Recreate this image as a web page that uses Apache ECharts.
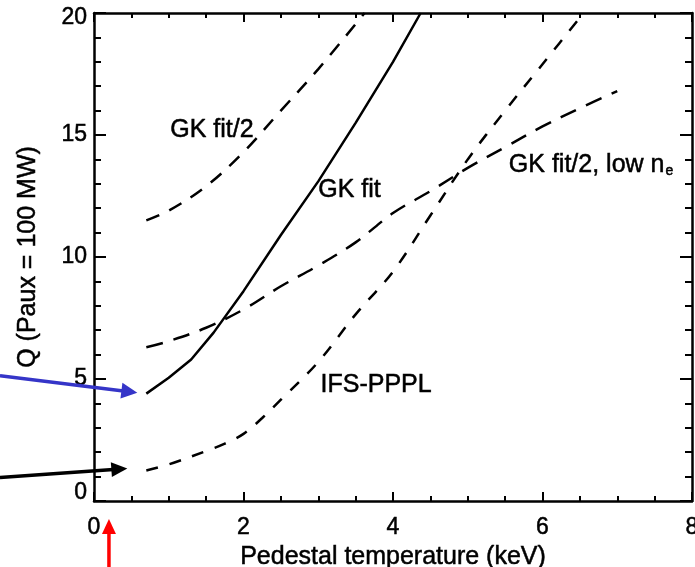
<!DOCTYPE html>
<html><head><meta charset="utf-8">
<script src="https://cdn.jsdelivr.net/npm/echarts@6/dist/echarts.min.js"></script>
<style>html,body{margin:0;padding:0;background:#fff}#c{width:695px;height:567px}</style>
</head><body><div id="c"></div>
<script>
// ---- data ----
const xTicks = [0, 2, 4, 6, 8];
const yTicks = [0, 5, 10, 15, 20];
const xTitle = 'Pedestal temperature (keV)';
const yTitle = 'Q (Paux = 100 MW)';

const gkFitX = [0.7, 1.0, 1.3, 1.6, 2.0, 2.5, 3.0, 3.5, 4.0, 4.37];
const gkFitY = [4.4, 5.05, 5.8, 6.9, 8.6, 10.9, 13.1, 15.5, 18.0, 20.0];
const gkHalfX = [0.7, 1.0, 1.5, 2.0, 2.5, 3.0, 3.62];
const gkHalfY = [11.5, 11.9, 12.9, 14.3, 16.0, 17.7, 20.0];
const lowNeX = [0.7, 1.0, 1.5, 2.0, 2.5, 3.0, 3.5, 4.0, 4.5, 5.0, 5.5, 6.0, 6.5, 7.0];
const lowNeY = [6.3, 6.55, 7.1, 7.85, 8.8, 9.65, 10.6, 11.8, 12.7, 13.65, 14.5, 15.35, 16.1, 16.8];
const ifsX = [0.7, 1.0, 1.5, 1.75, 2.0, 2.25, 2.5, 3.0, 3.5, 4.0, 4.5, 5.0, 5.5, 6.0, 6.55];
const ifsY = [1.25, 1.5, 2.05, 2.35, 2.75, 3.4, 4.15, 5.7, 7.65, 9.4, 11.7, 14.0, 16.0, 17.9, 20.0];

const annoText = ['{m|GK fit/2}', '{m|GK fit}', '{t|GK fit/2, low n}{sub|e}', '{m|IFS-PPPL}'];
const annoX = [1.02, 3.0, 5.55, 3.03];
const annoY = [15.2, 12.75, 13.75, 4.76];

// ---- chart ----
const FONT = 'Liberation Sans';
const TB = {textBorderColor: '#000', textBorderWidth: 0.5};
const zip = (a, b) => a.map((v, i) => [v, b[i]]);
const chart = echarts.init(document.getElementById('c'), null, {renderer: 'canvas'});
const AXW = 2.5;

function xAxis(pos, labels) {
  return {
    type: 'value', position: pos, min: xTicks[0], max: xTicks[xTicks.length - 1],
    interval: xTicks[1] - xTicks[0],
    name: labels ? xTitle : '', nameLocation: 'middle', nameGap: 39,
    nameTextStyle: Object.assign({fontFamily: FONT, fontSize: 25, color: '#000'}, TB),
    axisLine: {show: true, onZero: false, lineStyle: {color: '#000', width: AXW}},
    axisTick: {show: true, inside: true, length: 9, lineStyle: {color: '#000', width: 2}},
    minorTick: {show: true, splitNumber: 4, length: 5, lineStyle: {color: '#000', width: 2}},
    splitLine: {show: false}, minorSplitLine: {show: false},
    axisLabel: Object.assign({show: labels, fontFamily: FONT, fontSize: 23, color: '#000', margin: 15}, TB)
  };
}
function yAxis(pos, labels) {
  return {
    type: 'value', position: pos, min: yTicks[0], max: yTicks[yTicks.length - 1],
    interval: yTicks[1] - yTicks[0],
    name: labels ? yTitle : '', nameLocation: 'middle', nameGap: 53, nameRotate: 90,
    nameTextStyle: Object.assign({fontFamily: FONT, fontSize: 25, color: '#000'}, TB),
    axisLine: {show: true, onZero: false, lineStyle: {color: '#000', width: AXW}},
    axisTick: {show: true, inside: true, length: 12, lineStyle: {color: '#000', width: 2}},
    minorTick: {show: true, splitNumber: 5, length: 7, lineStyle: {color: '#000', width: 2}},
    splitLine: {show: false}, minorSplitLine: {show: false},
    axisLabel: Object.assign({
      show: labels, fontFamily: FONT, fontSize: 23, color: '#000', margin: 7,
      formatter: v => v === yTicks[0] ? '{lo|' + v + '}' : (v === yTicks[yTicks.length - 1] ? '{hi|' + v + '}' : String(v)),
      rich: {
        lo: Object.assign({fontFamily: FONT, fontSize: 23, color: '#000', padding: [0, 0, 16, 0]}, TB),
        hi: Object.assign({fontFamily: FONT, fontSize: 23, color: '#000', padding: [10, 0, 0, 0]}, TB)
      }
    }, TB)
  };
}

const lineBase = {type: 'line', showSymbol: false, symbol: 'none', clip: true, animation: false, xAxisIndex: 0, yAxisIndex: 0};

chart.setOption({
  animation: false,
  backgroundColor: '#fff',
  grid: {left: 94, right: 3, top: 13, bottom: 66, containLabel: false, outerBoundsMode: 'none'},
  xAxis: [xAxis('bottom', true), xAxis('top', false)],
  yAxis: [yAxis('left', true), yAxis('right', false)],
  series: [
    Object.assign({}, lineBase, {name: 'GK fit', data: zip(gkFitX, gkFitY), smooth: false,
      lineStyle: {color: '#000', width: 2.5, type: 'solid'}}),
    Object.assign({}, lineBase, {name: 'GK fit/2', data: zip(gkHalfX, gkHalfY), smooth: 0.35,
      lineStyle: {color: '#000', width: 2.5, type: [14, 11]}}),
    Object.assign({}, lineBase, {name: 'GK fit/2, low ne', data: zip(lowNeX, lowNeY), smooth: 0.35,
      lineStyle: {color: '#000', width: 2.5, type: [17, 11]}}),
    Object.assign({}, lineBase, {name: 'IFS-PPPL', data: zip(ifsX, ifsY), smooth: 0.35,
      lineStyle: {color: '#000', width: 2.5, type: [12, 12]}}),
    {
      type: 'scatter', name: 'labels', symbolSize: 0, animation: false, silent: true,
      itemStyle: {opacity: 1, color: '#000'},
      data: annoText.map((t, i) => ({value: [annoX[i], annoY[i]], name: t})),
      label: Object.assign({
        show: true, position: 'right', distance: 0, formatter: p => p.name, opacity: 1,
        fontFamily: FONT, fontSize: 25, color: '#000',
        rich: {
          m: Object.assign({fontFamily: FONT, fontSize: 25, color: '#000'}, TB),
          t: Object.assign({fontFamily: FONT, fontSize: 25, color: '#000', lineHeight: 25, verticalAlign: 'top'}, TB),
          sub: Object.assign({fontFamily: FONT, fontSize: 14, color: '#000', lineHeight: 14, verticalAlign: 'bottom', padding: [16, 0, 0, 1]}, TB)
        }
      }, TB)
    }
  ]
});

// ---- arrows (annotations) ----
function arrow(tail, tip, color, headLen, headW, w) {
  const dx = tip[0] - tail[0], dy = tip[1] - tail[1];
  const L = Math.hypot(dx, dy), ux = dx / L, uy = dy / L;
  const bx = tip[0] - ux * headLen, by = tip[1] - uy * headLen;
  const px = -uy * headW / 2, py = ux * headW / 2;
  return [
    {type: 'polyline', shape: {points: [tail, [bx + ux * 2, by + uy * 2]]}, style: {stroke: color, lineWidth: w, fill: null}, z: 100},
    {type: 'polygon', shape: {points: [tip, [bx + px, by + py], [bx - px, by - py]]}, style: {fill: color}, z: 100}
  ];
}
const pGK = chart.convertToPixel({seriesIndex: 0}, [gkFitX[0], gkFitY[0]]);
const pIFS = chart.convertToPixel({seriesIndex: 3}, [ifsX[0], ifsY[0]]);
const pRed = chart.convertToPixel({seriesIndex: 0}, [0.2, 0]);
chart.setOption({
  graphic: [].concat(
    arrow([0, pGK[1] - 18], [pGK[0] - 9, pGK[1] - 1], '#3535c8', 16, 16, 3.5),
    arrow([0, pIFS[1] + 7], [pIFS[0] - 19, pIFS[1] - 2], '#000', 16, 15, 3.5),
    arrow([pRed[0], 567], [pRed[0], pRed[1] + 18], '#ff0000', 15, 14, 3.5)
  )
});
</script>
</body></html>
